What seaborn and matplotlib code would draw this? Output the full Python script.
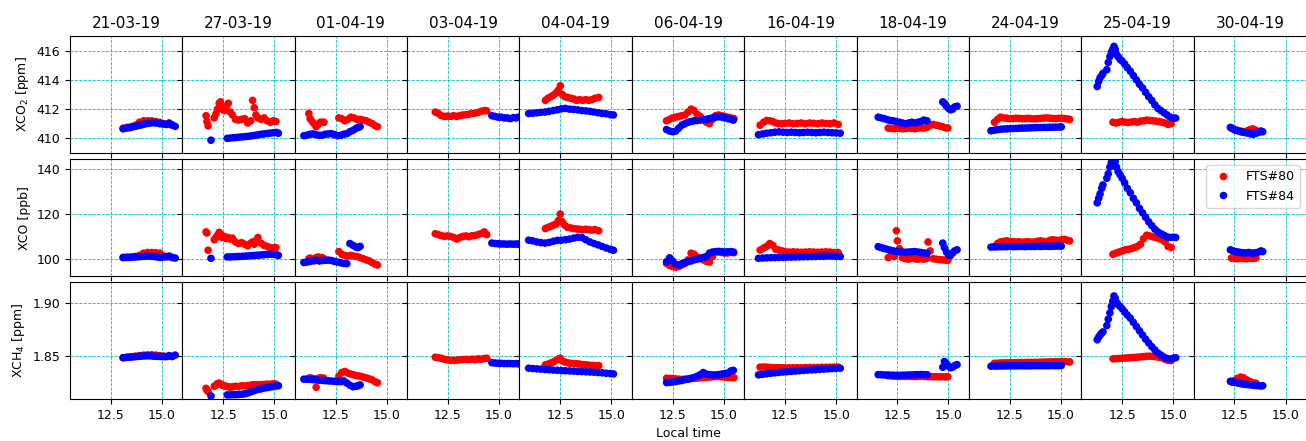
import matplotlib
matplotlib.use("Agg")
import matplotlib.pyplot as plt
import seaborn as sns
import pandas as pd

# Measurement days (one column each)
dates = ["21-03-19", "27-03-19", "01-04-19", "03-04-19", "04-04-19", "06-04-19",
         "16-04-19", "18-04-19", "24-04-19", "25-04-19", "30-04-19"]

# ---------------- FTS#80 ----------------
t80 = {
    "21-03-19": [13.1, 13.3, 13.5, 13.7, 13.9, 14.1, 14.3, 14.5, 14.7, 14.9, 15.1, 15.3, 15.5],
    "27-03-19": [11.66, 11.7, 11.76, 12.06, 12.15, 12.22, 12.3, 12.36, 12.45, 12.55, 12.65, 12.75, 12.85, 12.95,
                 13.1, 13.25, 13.4, 13.55, 13.7, 13.85, 13.94, 14.02, 14.1, 14.2, 14.35, 14.5, 14.65, 14.8, 14.95, 15.08],
    "01-04-19": [11.19, 11.25, 11.35, 11.45, 11.55, 11.65, 11.75, 11.85, 11.93,
                 12.66, 12.8, 12.95, 13.1, 13.25, 13.4, 13.55, 13.7, 13.85, 14.0, 14.15, 14.3, 14.45, 14.55],
    "03-04-19": [11.88, 12.03, 12.18, 12.33, 12.48, 12.63, 12.78, 12.93, 13.08, 13.23, 13.38, 13.53, 13.68, 13.83,
                 13.98, 14.13, 14.28, 14.4],
    "04-04-19": [11.77, 11.9, 12.03, 12.16, 12.29, 12.4, 12.5, 12.6, 12.72, 12.85, 13.0, 13.15, 13.3, 13.45, 13.6,
                 13.75, 13.9, 14.05, 14.2, 14.38],
    "06-04-19": [12.2, 12.35, 12.5, 12.65, 12.8, 12.95, 13.1, 13.25, 13.4, 13.55, 13.7, 13.85, 14.0, 14.15, 14.3,
                 14.45, 14.6, 14.75, 14.9, 15.05, 15.2, 15.35, 15.5],
    "16-04-19": [11.28, 11.45, 11.6, 11.75, 11.9, 12.05, 12.2, 12.35, 12.5, 12.7, 12.9, 13.1, 13.3, 13.5, 13.7,
                 13.9, 14.1, 14.3, 14.5, 14.7, 14.9, 15.1],
    "18-04-19": [12.05, 12.2, 12.35, 12.45, 12.5, 12.6, 12.75, 12.9, 13.05, 13.2, 13.35, 13.5, 13.65, 13.8, 13.95,
                 14.0, 14.1, 14.25, 14.4, 14.55, 14.7, 14.85, 14.97],
    "24-04-19": [11.75, 11.9, 12.05, 12.2, 12.35, 12.5, 12.65, 12.8, 12.95, 13.1, 13.25, 13.4, 13.55, 13.7, 13.85,
                 14.0, 14.15, 14.3, 14.45, 14.6, 14.75, 14.9, 15.05, 15.2, 15.35, 15.43],
    "25-04-19": [12.05, 12.2, 12.35, 12.5, 12.65, 12.8, 12.95, 13.1, 13.25, 13.4, 13.55, 13.7, 13.85, 14.0, 14.15,
                 14.3, 14.45, 14.6, 14.75, 14.9],
    "30-04-19": [12.35, 12.5, 12.65, 12.8, 12.95, 13.1, 13.25, 13.4, 13.55],
}
co2_80 = {
    "21-03-19": [410.7, 410.75, 410.8, 410.9, 411.1, 411.2, 411.2, 411.2, 411.15, 411.1, 411.0, 410.95, 410.9],
    "27-03-19": [411.55, 411.15, 410.85, 411.4, 411.7, 412.0, 412.4, 412.5, 412.0, 411.9, 412.2, 412.4, 411.8, 411.6,
                 411.3, 411.25, 411.3, 411.35, 411.05, 411.2, 412.6, 412.1, 411.6, 411.4, 411.3, 411.4, 411.2, 411.1,
                 411.2, 411.15],
    "01-04-19": [411.7, 411.35, 411.15, 411.0, 410.8, 410.95, 411.1, 411.1, 411.1,
                 411.4, 411.35, 411.2, 411.3, 411.45, 411.4, 411.3, 411.3, 411.25, 411.2, 411.1, 411.0, 410.85, 410.8],
    "03-04-19": [411.8, 411.7, 411.55, 411.5, 411.52, 411.5, 411.55, 411.5, 411.55, 411.6, 411.62, 411.65, 411.7,
                 411.72, 411.78, 411.85, 411.9, 411.88],
    "04-04-19": [412.6, 412.75, 412.85, 412.95, 413.1, 413.3, 413.6, 413.0, 412.85, 412.8, 412.75, 412.7, 412.6,
                 412.65, 412.6, 412.65, 412.6, 412.65, 412.75, 412.8],
    "06-04-19": [411.2, 411.3, 411.4, 411.45, 411.5, 411.55, 411.6, 411.8, 412.0, 411.9, 411.65, 411.5, 411.3, 411.1,
                 411.0, 411.3, 411.55, 411.6, 411.55, 411.5, 411.45, 411.4, 411.35],
    "16-04-19": [410.9, 411.1, 411.22, 411.2, 411.15, 411.05, 411.0, 411.0, 411.02, 411.05, 411.0, 411.02, 411.05,
                 411.0, 411.05, 411.03, 411.0, 411.05, 411.02, 411.0, 411.05, 410.95],
    "18-04-19": [410.7, 410.68, 410.65, 410.7, 410.72, 410.68, 410.65, 410.67, 410.7, 410.68, 410.65, 410.7, 410.72,
                 410.7, 410.75, 410.8, 410.9, 410.95, 410.9, 410.85, 410.8, 410.72, 410.7],
    "24-04-19": [411.1, 411.3, 411.45, 411.4, 411.38, 411.35, 411.35, 411.38, 411.36, 411.34, 411.35, 411.37, 411.35,
                 411.33, 411.35, 411.36, 411.38, 411.4, 411.38, 411.36, 411.35, 411.37, 411.38, 411.35, 411.32, 411.3],
    "25-04-19": [411.1, 411.05, 411.1, 411.15, 411.1, 411.08, 411.12, 411.15, 411.1, 411.18, 411.2, 411.25, 411.22,
                 411.2, 411.18, 411.15, 411.1, 411.05, 410.95, 411.0],
    "30-04-19": [410.7, 410.6, 410.55, 410.5, 410.45, 410.5, 410.6, 410.65, 410.55],
}
co_80 = {
    "21-03-19": [100.6, 100.7, 100.8, 101.0, 101.5, 102.5, 102.8, 102.8, 102.7, 102.5, 101.2, 100.8, 100.5],
    "27-03-19": [112.0, 111.5, 103.8, 108.5, 109.5, 110.5, 111.8, 111.0, 109.5, 110.0, 109.0, 109.5, 108.8, 109.2,
                 107.5, 106.8, 107.2, 106.5, 105.8, 107.0, 107.5, 106.5, 108.0, 109.5, 107.0, 106.0, 105.5, 105.0,
                 104.8, 105.0],
    "01-04-19": [100.0, 100.3, 99.5, 99.0, 100.5, 100.8, 100.2, 100.5, 100.0,
                 103.2, 102.0, 101.5, 101.2, 101.5, 101.2, 101.0, 100.5, 100.0, 99.5, 99.0, 98.2, 97.5, 97.2],
    "03-04-19": [111.2, 110.8, 110.3, 110.0, 110.2, 110.0, 109.5, 108.8, 109.5, 110.0, 110.2, 109.8, 110.3, 110.4,
                 110.8, 111.3, 112.0, 110.8],
    "04-04-19": [113.5, 114.0, 114.5, 115.0, 115.5, 117.0, 120.0, 116.5, 115.0, 114.0, 113.8, 113.5, 113.3, 113.2,
                 113.0, 113.2, 113.0, 112.8, 113.0, 112.5],
    "06-04-19": [97.9, 97.0, 96.5, 96.2, 96.5, 97.2, 97.9, 99.5, 102.5, 102.0, 100.8, 100.2, 99.5, 98.8, 98.5,
                 101.0, 103.0, 103.0, 102.8, 102.5, 102.6, 102.8, 102.7],
    "16-04-19": [103.9, 104.8, 105.5, 106.8, 106.0, 104.2, 103.9, 103.5, 103.2, 103.0, 103.1, 103.0, 102.9, 103.0,
                 103.1, 103.0, 102.9, 103.0, 103.1, 103.0, 102.8, 102.8],
    "18-04-19": [100.5, 101.5, 101.0, 112.5, 108.0, 104.5, 100.5, 100.0, 99.8, 100.2, 100.0, 99.8, 100.0, 99.8,
                 100.2, 107.5, 103.5, 100.0, 99.8, 99.6, 99.5, 99.4, 99.3],
    "24-04-19": [105.5, 106.8, 107.6, 107.8, 108.0, 107.8, 107.6, 107.5, 107.6, 107.4, 107.5, 107.6, 107.4, 107.5,
                 107.8, 108.0, 107.8, 107.6, 108.2, 108.5, 108.3, 108.2, 108.5, 108.6, 108.2, 108.0],
    "25-04-19": [102.0, 102.5, 103.0, 103.5, 104.0, 104.2, 104.5, 105.0, 105.5, 106.5, 109.0, 110.5, 110.2, 109.8,
                 109.5, 109.0, 108.5, 107.5, 105.5, 105.0],
    "30-04-19": [100.3, 100.1, 100.0, 100.2, 100.1, 100.0, 100.2, 100.1, 100.3],
}
ch4_80 = {
    "21-03-19": [1.8485, 1.849, 1.8495, 1.85, 1.8505, 1.851, 1.8512, 1.8513, 1.851, 1.8505, 1.85, 1.8498, 1.8496],
    "27-03-19": [1.8195, 1.818, 1.8165, 1.8215, 1.8225, 1.824, 1.8245, 1.8235, 1.8225, 1.822, 1.8215, 1.821, 1.8205,
                 1.821, 1.8215, 1.8212, 1.822, 1.8218, 1.8222, 1.8225, 1.8228, 1.8225, 1.8228, 1.823, 1.823, 1.8232,
                 1.8235, 1.8235, 1.8238, 1.8235],
    "01-04-19": [1.829, 1.8295, 1.829, 1.8285, 1.8205, 1.829, 1.8295, 1.8292, 1.829,
                 1.831, 1.8345, 1.8355, 1.834, 1.833, 1.8322, 1.8315, 1.831, 1.8302, 1.8295, 1.8285, 1.8275, 1.8255,
                 1.8248],
    "03-04-19": [1.849, 1.8485, 1.848, 1.847, 1.8465, 1.846, 1.846, 1.8462, 1.8465, 1.8468, 1.847, 1.8468, 1.8472,
                 1.8468, 1.8475, 1.847, 1.8478, 1.848],
    "04-04-19": [1.8418, 1.8425, 1.8435, 1.8445, 1.846, 1.847, 1.848, 1.8455, 1.8445, 1.8438, 1.8432, 1.843, 1.8428,
                 1.8425, 1.842, 1.8418, 1.8415, 1.8412, 1.841, 1.841],
    "06-04-19": [1.8291, 1.829, 1.8288, 1.8285, 1.8282, 1.828, 1.8282, 1.8285, 1.8288, 1.829, 1.8292, 1.8295, 1.8298,
                 1.83, 1.8302, 1.8305, 1.8307, 1.8306, 1.8304, 1.8302, 1.83, 1.8298, 1.8296],
    "16-04-19": [1.8396, 1.8398, 1.8396, 1.8394, 1.8392, 1.8391, 1.839, 1.839, 1.8389, 1.839, 1.839, 1.8391, 1.839,
                 1.8392, 1.8393, 1.8392, 1.8394, 1.8395, 1.8395, 1.8396, 1.8397, 1.8396],
    "18-04-19": [1.8315, 1.8312, 1.831, 1.8312, 1.831, 1.8308, 1.831, 1.8308, 1.831, 1.8308, 1.8306, 1.8308, 1.831,
                 1.8308, 1.8306, 1.8308, 1.8306, 1.8305, 1.8306, 1.8304, 1.8305, 1.8303, 1.8305],
    "24-04-19": [1.8432, 1.8434, 1.8436, 1.8436, 1.8437, 1.8438, 1.8438, 1.8439, 1.844, 1.844, 1.844, 1.8441, 1.8441,
                 1.8442, 1.8442, 1.8443, 1.8444, 1.8445, 1.8446, 1.8446, 1.8447, 1.8447, 1.8448, 1.8448, 1.8447,
                 1.8446],
    "25-04-19": [1.8475, 1.8476, 1.8478, 1.848, 1.8482, 1.8484, 1.8486, 1.8488, 1.849, 1.8493, 1.8496, 1.8499, 1.85,
                 1.8498, 1.8495, 1.849, 1.8485, 1.847, 1.846, 1.8458],
    "30-04-19": [1.8255, 1.827, 1.829, 1.8302, 1.8295, 1.8275, 1.826, 1.8248, 1.8244],
}

# ---------------- FTS#84 ----------------
t84 = {
    "21-03-19": [13.1, 13.25, 13.4, 13.55, 13.7, 13.85, 14.0, 14.15, 14.3, 14.45, 14.6, 14.75, 14.9, 15.05, 15.2,
                 15.35, 15.5, 15.65],
    "27-03-19": [11.9, 12.7, 12.85, 13.0, 13.15, 13.3, 13.45, 13.6, 13.75, 13.9, 14.05, 14.2, 14.35, 14.5, 14.65,
                 14.8, 14.95, 15.1, 15.2],
    "01-04-19": [10.95, 11.1, 11.25, 11.4, 11.55, 11.7, 11.85, 12.0, 12.15, 12.3, 12.45, 12.6, 12.75, 12.9, 13.05,
                 13.2, 13.35, 13.5, 13.6, 13.7],
    "03-04-19": [14.65, 14.8, 14.95, 15.1, 15.25, 15.4, 15.55, 15.7, 15.85, 15.95],
    "04-04-19": [10.95, 11.15, 11.35, 11.55, 11.75, 11.95, 12.15, 12.35, 12.55, 12.75, 12.95, 13.15, 13.35, 13.55,
                 13.75, 13.95, 14.15, 14.35, 14.55, 14.75, 14.95, 15.1],
    "06-04-19": [12.2, 12.35, 12.5, 12.65, 12.8, 12.95, 13.1, 13.25, 13.4, 13.55, 13.7, 13.85, 14.0, 14.15, 14.3,
                 14.45, 14.6, 14.75, 14.9, 15.05, 15.2, 15.35, 15.47],
    "16-04-19": [11.2, 11.4, 11.6, 11.8, 12.0, 12.2, 12.4, 12.6, 12.8, 13.0, 13.2, 13.4, 13.6, 13.8, 14.0, 14.2,
                 14.4, 14.6, 14.8, 15.0, 15.2],
    "18-04-19": [11.56, 11.7, 11.85, 12.0, 12.15, 12.3, 12.45, 12.6, 12.75, 12.9, 13.05, 13.2, 13.35, 13.5, 13.65,
                 13.8, 13.95, 14.72, 14.8, 14.9, 15.0, 15.1, 15.2, 15.3, 15.42],
    "24-04-19": [11.58, 11.75, 11.9, 12.05, 12.2, 12.35, 12.5, 12.65, 12.8, 12.95, 13.1, 13.25, 13.4, 13.55, 13.7,
                 13.85, 14.0, 14.15, 14.3, 14.45, 14.6, 14.75, 14.9, 15.02],
    "25-04-19": [11.28, 11.35, 11.42, 11.5, 11.56, 11.75, 11.82, 11.9, 11.97, 12.04, 12.1, 12.16, 12.22, 12.3, 12.4,
                 12.5, 12.62, 12.75, 12.9, 13.05, 13.2, 13.35, 13.5, 13.65, 13.8, 13.95, 14.1, 14.25, 14.4, 14.55,
                 14.7, 14.85, 15.0, 15.12],
    "30-04-19": [12.3, 12.42, 12.55, 12.68, 12.8, 12.92, 13.05, 13.18, 13.3, 13.42, 13.55, 13.68, 13.8, 13.88],
}
co2_84 = {
    "21-03-19": [410.65, 410.7, 410.72, 410.78, 410.82, 410.88, 410.92, 410.98, 411.02, 411.05, 411.07, 411.04,
                 411.0, 410.98, 410.95, 411.05, 410.92, 410.82],
    "27-03-19": [409.87, 410.0, 410.02, 410.04, 410.06, 410.08, 410.1, 410.12, 410.14, 410.17, 410.2, 410.24, 410.28,
                 410.3, 410.33, 410.36, 410.38, 410.4, 410.35],
    "01-04-19": [410.18, 410.22, 410.28, 410.3, 410.25, 410.2, 410.22, 410.28, 410.3, 410.32, 410.25, 410.18, 410.2,
                 410.28, 410.32, 410.45, 410.55, 410.68, 410.75, 410.8],
    "03-04-19": [411.55, 411.5, 411.45, 411.45, 411.4, 411.4, 411.35, 411.42, 411.4, 411.45],
    "04-04-19": [411.7, 411.72, 411.75, 411.78, 411.8, 411.85, 411.9, 411.95, 412.02, 412.05, 412.0, 411.98, 411.95,
                 411.9, 411.88, 411.85, 411.8, 411.75, 411.7, 411.68, 411.62, 411.6],
    "06-04-19": [410.6, 410.5, 410.45, 410.5, 410.7, 410.9, 411.0, 411.1, 411.15, 411.2, 411.22, 411.25, 411.28,
                 411.3, 411.35, 411.4, 411.45, 411.48, 411.45, 411.4, 411.35, 411.3, 411.25],
    "16-04-19": [410.25, 410.3, 410.35, 410.38, 410.42, 410.44, 410.42, 410.4, 410.42, 410.4, 410.38, 410.4, 410.42,
                 410.4, 410.38, 410.4, 410.42, 410.4, 410.38, 410.37, 410.35],
    "18-04-19": [411.45, 411.4, 411.35, 411.28, 411.22, 411.2, 411.15, 411.1, 411.05, 411.0, 411.05, 411.1, 411.05,
                 411.1, 411.15, 411.25, 411.2, 412.5, 412.4, 412.2, 412.05, 411.95, 412.0, 412.15, 412.2],
    "24-04-19": [410.52, 410.56, 410.6, 410.62, 410.64, 410.65, 410.66, 410.67, 410.68, 410.69, 410.7, 410.7, 410.71,
                 410.72, 410.73, 410.74, 410.74, 410.75, 410.75, 410.76, 410.76, 410.77, 410.77, 410.78],
    "25-04-19": [413.55, 413.9, 414.15, 414.3, 414.45, 414.7, 415.2, 415.6, 415.9, 416.1, 416.3, 416.1, 415.75,
                 415.6, 415.4, 415.3, 415.1, 414.85, 414.6, 414.3, 414.0, 413.7, 413.45, 413.15, 412.85, 412.6,
                 412.3, 412.05, 411.9, 411.75, 411.6, 411.45, 411.4, 411.38],
    "30-04-19": [410.75, 410.65, 410.55, 410.5, 410.45, 410.42, 410.38, 410.35, 410.3, 410.28, 410.35, 410.4, 410.5,
                 410.45],
}
co_84 = {
    "21-03-19": [100.5, 100.6, 100.6, 100.7, 100.8, 100.9, 101.0, 101.1, 101.2, 101.1, 101.0, 100.8, 100.6, 100.7,
                 100.9, 101.2, 100.6, 100.3],
    "27-03-19": [100.2, 100.8, 100.8, 100.9, 101.0, 101.0, 101.1, 101.2, 101.3, 101.4, 101.5, 101.6, 101.7, 101.8,
                 101.9, 102.0, 102.0, 101.8, 101.5],
    "01-04-19": [98.3, 98.5, 98.8, 99.2, 99.3, 99.0, 99.2, 99.3, 99.4, 99.2, 98.8, 98.5, 98.2, 97.9, 97.8, 106.8,
                 106.0, 105.2, 105.0, 105.5],
    "03-04-19": [107.0, 106.8, 106.7, 106.6, 106.6, 106.5, 106.6, 106.5, 106.6, 106.5],
    "04-04-19": [108.3, 108.0, 107.5, 107.2, 107.0, 107.3, 107.8, 108.2, 108.3, 108.5, 108.8, 109.2, 109.6, 109.5,
                 108.5, 107.5, 106.8, 106.2, 105.5, 104.8, 104.2, 103.8],
    "06-04-19": [98.7, 100.4, 99.0, 97.5, 97.2, 97.8, 98.3, 98.7, 99.0, 99.5, 99.8, 100.2, 100.6, 101.0, 102.5,
                 103.0, 103.2, 103.3, 103.2, 103.0, 103.1, 103.2, 103.0],
    "16-04-19": [100.2, 100.3, 100.4, 100.5, 100.5, 100.6, 100.6, 100.7, 100.7, 100.8, 100.8, 100.9, 100.9, 101.0,
                 101.0, 101.1, 101.1, 101.2, 101.2, 101.1, 101.0],
    "18-04-19": [105.4, 105.0, 104.6, 104.2, 103.8, 103.5, 103.2, 103.0, 103.0, 102.9, 103.0, 103.1, 103.2, 103.0,
                 102.8, 102.6, 102.4, 107.0, 105.0, 103.0, 101.8, 101.5, 102.5, 103.5, 104.0],
    "24-04-19": [105.2, 105.3, 105.3, 105.4, 105.4, 105.4, 105.5, 105.4, 105.4, 105.5, 105.5, 105.4, 105.5, 105.5,
                 105.5, 105.6, 105.5, 105.6, 105.6, 105.5, 105.6, 105.6, 105.7, 105.6],
    "25-04-19": [125.0, 127.0, 129.0, 131.5, 133.0, 136.0, 138.0, 141.0, 143.0, 143.5, 143.8, 143.5, 141.0, 139.0,
                 137.5, 136.0, 134.0, 131.5, 129.5, 127.0, 125.0, 122.5, 120.5, 118.5, 116.5, 114.8, 113.2, 112.0,
                 111.2, 110.5, 109.8, 109.5, 109.6, 109.5],
    "30-04-19": [104.0, 103.5, 103.2, 103.0, 102.8, 102.7, 102.6, 102.8, 102.6, 102.5, 102.7, 103.0, 103.5, 103.2],
}
ch4_84 = {
    "21-03-19": [1.8485, 1.8488, 1.849, 1.8492, 1.8495, 1.8498, 1.85, 1.8502, 1.8503, 1.8502, 1.85, 1.8498, 1.8497,
                 1.8496, 1.8495, 1.8505, 1.8498, 1.851],
    "27-03-19": [1.8123, 1.8133, 1.8133, 1.8135, 1.8135, 1.8138, 1.814, 1.8145, 1.8155, 1.8165, 1.8175, 1.8185,
                 1.819, 1.8198, 1.8202, 1.8208, 1.8212, 1.8218, 1.822],
    "01-04-19": [1.8282, 1.8282, 1.828, 1.8278, 1.8275, 1.8272, 1.827, 1.8268, 1.8266, 1.8264, 1.8262, 1.826,
                 1.8258, 1.8265, 1.8245, 1.8225, 1.821, 1.8215, 1.822, 1.8228],
    "03-04-19": [1.8438, 1.8435, 1.8433, 1.8432, 1.843, 1.843, 1.843, 1.8428, 1.843, 1.8428],
    "04-04-19": [1.8386, 1.8383, 1.838, 1.8377, 1.8374, 1.8371, 1.8368, 1.8366, 1.8364, 1.8362, 1.836, 1.8358,
                 1.8356, 1.8354, 1.8352, 1.835, 1.8348, 1.8345, 1.8342, 1.8338, 1.8335, 1.8332],
    "06-04-19": [1.825, 1.8252, 1.8255, 1.826, 1.8265, 1.827, 1.8278, 1.8282, 1.829, 1.8298, 1.831, 1.8325, 1.8345,
                 1.833, 1.8325, 1.8322, 1.8322, 1.8325, 1.833, 1.8335, 1.834, 1.836, 1.8365],
    "16-04-19": [1.8323, 1.8328, 1.8333, 1.8338, 1.8342, 1.8346, 1.835, 1.8353, 1.8356, 1.8359, 1.8362, 1.8365,
                 1.8368, 1.837, 1.8372, 1.8375, 1.8377, 1.838, 1.8382, 1.8384, 1.8386],
    "18-04-19": [1.8325, 1.8324, 1.8322, 1.8322, 1.832, 1.832, 1.8318, 1.8318, 1.832, 1.832, 1.8322, 1.8322, 1.8324,
                 1.8325, 1.8326, 1.8325, 1.8324, 1.8395, 1.845, 1.843, 1.8405, 1.839, 1.8395, 1.841, 1.842],
    "24-04-19": [1.8405, 1.8406, 1.8406, 1.8407, 1.8407, 1.8408, 1.8408, 1.8408, 1.8408, 1.8409, 1.8409, 1.8409,
                 1.8408, 1.8409, 1.841, 1.841, 1.841, 1.841, 1.841, 1.841, 1.8411, 1.841, 1.841, 1.8411],
    "25-04-19": [1.8655, 1.868, 1.870, 1.8718, 1.873, 1.879, 1.885, 1.891, 1.897, 1.902, 1.907, 1.905, 1.901, 1.899,
                 1.897, 1.895, 1.892, 1.889, 1.886, 1.882, 1.878, 1.874, 1.870, 1.866, 1.8625, 1.859, 1.856, 1.853,
                 1.851, 1.849, 1.8478, 1.8472, 1.848, 1.8485],
    "30-04-19": [1.8262, 1.8255, 1.825, 1.8245, 1.824, 1.8235, 1.8232, 1.823, 1.8228, 1.8225, 1.8222, 1.822, 1.8218,
                 1.822],
}

# Build one long table
frames = []
for d in dates:
    frames.append(pd.DataFrame({"date": d, "instrument": "FTS#80", "time": t80[d],
                                "xco2": co2_80[d], "xco": co_80[d], "xch4": ch4_80[d]}))
    frames.append(pd.DataFrame({"date": d, "instrument": "FTS#84", "time": t84[d],
                                "xco2": co2_84[d], "xco": co_84[d], "xch4": ch4_84[d]}))
df = pd.concat(frames, ignore_index=True)

rows = [("xco2", "XCO$_2$ [ppm]", (409.0, 417.0), [410, 412, 414, 416]),
        ("xco", "XCO [ppb]", (92.3, 144.5), [100, 120, 140]),
        ("xch4", "XCH$_4$ [ppm]", (1.8094, 1.92), [1.85, 1.90])]
palette = {"FTS#80": "red", "FTS#84": "blue"}

fig, axes = plt.subplots(3, 11, figsize=(13.06, 4.41), dpi=100, sharex=True, sharey="row",
                         gridspec_kw=dict(wspace=0, hspace=0.054))
fig.subplots_adjust(left=0.0536, right=1.0, top=0.918, bottom=0.0952)

for j, d in enumerate(dates):
    sub = df[df["date"] == d]
    for i, (var, label, ylim, yticks) in enumerate(rows):
        ax = axes[i, j]
        ax.set_axisbelow(True)
        ax.grid(True, color="c", linestyle="--", linewidth=0.6)
        sns.scatterplot(data=sub, x="time", y=var, hue="instrument", palette=palette,
                        hue_order=["FTS#80", "FTS#84"], s=30, linewidth=0, ax=ax,
                        legend=(i == 1 and j == 10))
        ax.set_xlabel("")
        ax.set_ylabel("")
        ax.set_ylim(*ylim)
        ax.set_yticks(yticks)
        ax.tick_params(labelsize=9)
        if j == 0:
            ax.set_ylabel(label, fontsize=9)
    axes[0, j].set_title(d, fontsize=11)

axes[0, 0].set_xlim(10.5, 16.0)
axes[0, 0].set_xticks([12.5, 15.0])
axes[2, 5].set_xlabel("Local time", fontsize=9)

# Legend in the CO panel of the last day
old = axes[1, 10].get_legend()
handles = old.legend_handles
labels = [t.get_text() for t in old.texts]
old.remove()
axes[1, 10].legend(handles, labels, loc="upper right", fontsize=9)

plt.savefig("out.png", dpi=100)
